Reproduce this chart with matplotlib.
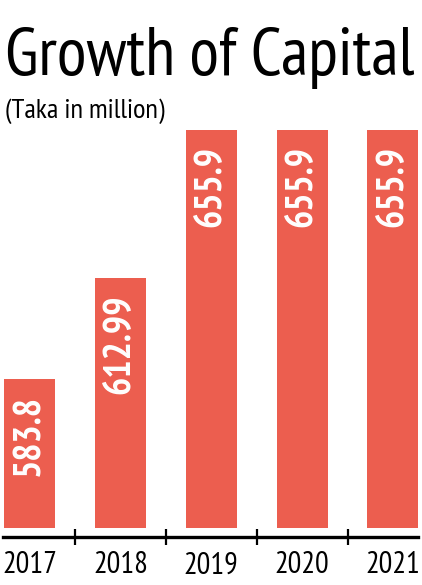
import matplotlib
matplotlib.use("Agg")
import matplotlib.pyplot as plt
import matplotlib.transforms as mtransforms

years = ["2017", "2018", "2019", "2020", "2021"]
capital = [583.8, 612.99, 655.9, 655.9, 655.9]
labels = ["583.8", "612.99", "655.9", "655.9", "655.9"]
base = 540.6  # bars start here, axis is not zero-based

bar_color = "#EC5E4F"
plt.rcParams["font.family"] = ["PT Sans Narrow", "DejaVu Sans"]

fig = plt.figure(figsize=(4.22, 5.85), dpi=100)
ax = fig.add_axes([0, 48 / 585, 1, 407 / 585])

x = list(range(len(years)))
heights = [v - base for v in capital]
ax.bar(x, heights, bottom=base, width=0.56, color=bar_color)

ax.set_xlim(-0.325, 4.32)
ax.set_ylim(538.0, 655.9)

# value labels, rotated, near the top of each bar
for xi, v, lab in zip(x, capital, labels):
    off = mtransforms.offset_copy(ax.transData, fig=fig, x=0, y=-16, units="dots")
    ax.text(xi, v, lab, rotation=90, ha="center", va="top", color="white",
            fontsize=27.5, fontweight="bold", transform=off)

for s in ["top", "left", "right"]:
    ax.spines[s].set_visible(False)
ax.spines["bottom"].set_linewidth(2.4)
ax.spines["bottom"].set_bounds(-0.29, 4.28)
ax.set_yticks([])

ax.set_xticks([0.5, 1.5, 2.5, 3.5])
ax.set_xticklabels([])
ax.tick_params(axis="x", direction="inout", length=12, width=1.6, color="black")

for xi, yr in zip(x, years):
    ax.text(xi, -0.035, yr, transform=ax.get_xaxis_transform(), ha="center",
            va="top", fontsize=22, color="black")

fig.text(5 / 422, 1 - 75 / 585, "Growth of Capital", ha="left", va="baseline",
         fontsize=49, color="black")
fig.text(5 / 422, 1 - 118 / 585, "(Taka in million)", ha="left", va="baseline",
         fontsize=20.5, color="black")

fig.savefig("out.png", dpi=100, facecolor="white")
